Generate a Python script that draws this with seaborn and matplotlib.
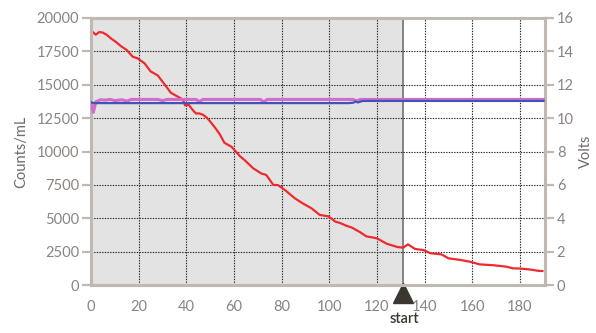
import numpy as np
import pandas as pd
import seaborn as sns
import matplotlib.pyplot as plt
from matplotlib.transforms import blended_transform_factory

# red trace, counts/mL against time
time_counts = [0, 1, 2, 3.5, 5, 6.5, 8.5, 10.5, 12.5, 15, 17.5, 19.5, 22.5, 25, 28, 31, 33.5,
               36.5, 38.5, 39.5, 41, 42.5, 44, 45.5, 47, 48.5, 50, 52, 54, 56, 59, 62.5,
               64.5, 68, 71.5, 73.5, 76.5, 78.5, 81.5, 85.5, 89, 92.5, 96, 99.5, 101.5,
               102.5, 104.5, 107, 109.5, 113, 115.5, 120, 124, 128.5, 131, 133, 136, 139.5,
               142.5, 147, 150, 155, 159, 163, 169, 174.5, 177, 180, 184, 188, 189.5]
counts = [19050, 18900, 18750, 18950, 18900, 18750, 18450, 18200, 17900, 17600, 17100, 16980,
          16600, 16000, 15700, 15000, 14400, 14100, 13900, 13450, 13500, 13150, 12850, 12850,
          12750, 12550, 12250, 11800, 11300, 10650, 10350, 9650, 9350, 8750, 8350, 8250, 7500,
          7480, 7100, 6500, 6100, 5750, 5250, 5150, 4900, 4750, 4650, 4450, 4300, 3950, 3650,
          3500, 3100, 2850, 2800, 3050, 2700, 2620, 2380, 2300, 2000, 1880, 1750, 1550, 1480,
          1370, 1250, 1240, 1170, 1060, 1050]

# voltage traces
time_pink = [0, 1, 2, 4, 6, 8, 10, 13, 15, 17, 20, 28, 30, 32, 44, 45.5, 47, 71, 72.5, 74,
             100, 110, 111.5, 113, 131, 190]
volts_pink = [10.95, 10.35, 10.98, 11.1, 11.08, 11.12, 11.05, 11.1, 11.02, 11.12, 11.12,
              11.12, 11.05, 11.12, 11.12, 11.0, 11.12, 11.12, 10.98, 11.12, 11.12, 11.12,
              11.03, 11.12, 11.12, 11.12]
time_blue = [0, 1, 3, 108, 110, 111, 112, 114, 190]
volts_blue = [10.95, 10.9, 10.9, 10.9, 10.92, 11.0, 10.94, 11.03, 11.03]

start_time = 131
x_ticks = [0, 20, 40, 60, 80, 100, 120, 140, 160, 180]
count_ticks = [0, 2500, 5000, 7500, 10000, 12500, 15000, 17500, 20000]
volt_ticks = [0, 2, 4, 6, 8, 10, 12, 14, 16]

df_counts = pd.DataFrame({"t": time_counts, "counts": counts})
df_pink = pd.DataFrame({"t": time_pink, "volts": volts_pink})
df_blue = pd.DataFrame({"t": time_blue, "volts": volts_blue})

sns.set_style("white")
plt.rcParams["font.family"] = ["Lato", "DejaVu Sans"]

axis_gray = "#bfb8b3"
label_gray = "#8a8480"

fig = plt.figure(figsize=(5.96, 3.33), dpi=100)
ax = fig.add_axes([0.1527, 0.144, 0.7617, 0.802])
ax2 = ax.twinx()

ax.axvspan(0, start_time, color="#e3e3e3", zorder=0, lw=0)
ax.axvline(start_time, color="#7a7a7a", lw=1.3, zorder=1)

for y in count_ticks[1:-1]:
    ax.axhline(y, color="#222222", lw=0.8, ls=(0, (1.2, 1.2)), zorder=1)
for x in x_ticks[1:]:
    ax.axvline(x, color="#222222", lw=0.8, ls=(0, (1.2, 1.2)), zorder=1)

sns.lineplot(data=df_counts, x="t", y="counts", ax=ax, color="#ee2a2e", lw=1.6, zorder=5)
sns.lineplot(data=df_pink, x="t", y="volts", ax=ax2, color="#cf6ccd", lw=2.2, zorder=4)
sns.lineplot(data=df_blue, x="t", y="volts", ax=ax2, color="#4453b8", lw=1.6, zorder=4)

ax.set_xlim(0, 190.5)
ax.set_ylim(0, 20000)
ax2.set_ylim(0, 16)
ax.set_xticks(x_ticks)
ax.set_yticks(count_ticks)
ax2.set_yticks(volt_ticks)

ax.set_xlabel("")
ax.set_ylabel("Counts/mL", fontsize=10.5, color="#6f6a66", labelpad=6)
ax2.set_ylabel("Volts", fontsize=10.5, color="#6f6a66", labelpad=4)

for a in (ax, ax2):
    for s in a.spines.values():
        s.set_color(axis_gray)
        s.set_linewidth(2.2)
    a.tick_params(colors=axis_gray, labelcolor=label_gray, labelsize=10.5,
                  length=6.5, width=1.6, pad=2)
ax.tick_params(axis="x", pad=4)
ax2.patch.set_visible(False)

# start marker under the axis
trans = blended_transform_factory(ax.transData, ax.transAxes)
ax.plot([start_time], [-0.03], marker="^", ms=14, color="#3b3630", transform=trans,
        clip_on=False, zorder=10)
ax.text(start_time + 0.5, -0.1, "start", transform=trans, ha="center", va="top",
        fontsize=10.5, color="#3b3630", fontweight="semibold")

fig.savefig("out.png", dpi=100)
